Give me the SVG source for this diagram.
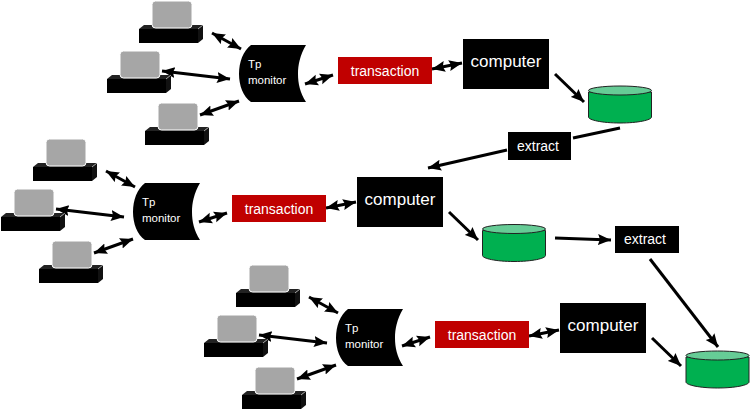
<svg xmlns="http://www.w3.org/2000/svg" xmlns:xlink="http://www.w3.org/1999/xlink" width="750" height="411" viewBox="0 0 750 411">
<style>
text{font-family:"Liberation Sans",Arial,sans-serif;fill:#fff}
.c{stroke:#000;stroke-width:3;fill:none;stroke-linecap:butt}
.a{marker-end:url(#h)}
.b{marker-start:url(#hs);marker-end:url(#h)}
.big{font-size:17px;text-anchor:middle}
.tx{font-size:14px;text-anchor:middle}
.mon{font-size:11.500px}
</style>
<defs>
<marker id="h" markerUnits="userSpaceOnUse" markerWidth="14" markerHeight="12" refX="13" refY="6" orient="auto"><path d="M0 .5L13 6L0 11.500L2 6Z" fill="#000"/></marker>
<marker id="hs" markerUnits="userSpaceOnUse" markerWidth="14" markerHeight="12" refX="1" refY="6" orient="auto"><path d="M14 .5L1 6L14 11.500L12 6Z" fill="#000"/></marker>
<g id="term">
<path d="M0 4L5 0H64L59 4Z" fill="#222"/><path d="M59 4L64 0V14L59 18Z" fill="#111"/>
<rect x="0" y="4" width="59" height="14" fill="#000"/><path d="M59 4L64 0" stroke="#ddd" stroke-width=".6" fill="none"/>
<rect x="13" y="-24" width="40" height="27" rx="3.500" fill="#a6a6a6" stroke="#fff" stroke-width="1"/>
</g>
<path id="mon" d="M12 0H67C61 10 59 20 59 29C59 38 61 48 67 57H12C4 52 0 40 0 29C0 17 4 6 12 0Z" fill="#000"/>
<g id="disk">
<path d="M.5 7V32C.5 35 14 38 32 38S63.500 35 63.500 32V7Z" fill="#00b050" stroke="#222" stroke-width="1"/>
<ellipse cx="32" cy="5.500" rx="31.500" ry="4.500" fill="#66cc96" stroke="#222" stroke-width="1"/>
</g>
</defs>
<g id="connectors">
<path class="c b" d="M212 33L241 49"/><path class="c b" d="M162 71L230 79"/><path class="c b" d="M200 115L239 101"/><path class="c b" d="M305 84L333 75"/><path class="c b" d="M432 69L462 63"/>
<path class="c a" d="M555 74L584 102"/><path class="c" d="M620 128L573 138"/><path class="c a" d="M507 150L428 168"/>
<path class="c b" d="M106 171L135 187"/><path class="c b" d="M56 209L124 217"/><path class="c b" d="M94 253L133 239"/><path class="c b" d="M199 222L227 213"/><path class="c b" d="M326 208L356 202"/>
<path class="c a" d="M449 212L478 240"/><path class="c a" d="M555 238L611 240"/><path class="c a" d="M650 259L718 347"/>
<path class="c b" d="M309 297L338 313"/><path class="c b" d="M259 335L327 343"/><path class="c b" d="M297 379L336 365"/><path class="c b" d="M402 346L430 337"/><path class="c b" d="M529 336L559 330"/>
<path class="c a" d="M652 338L681 366"/>
</g>
<g id="term1"><use xlink:href="#term" href="#term" x="139" y="25"/></g>
<g id="term2"><use xlink:href="#term" href="#term" x="107" y="75"/></g>
<g id="term3"><use xlink:href="#term" href="#term" x="145" y="127"/></g>
<g id="term4"><use xlink:href="#term" href="#term" x="33" y="163"/></g>
<g id="term5"><use xlink:href="#term" href="#term" x="1" y="213"/></g>
<g id="term6"><use xlink:href="#term" href="#term" x="39" y="265"/></g>
<g id="term7"><use xlink:href="#term" href="#term" x="236" y="289"/></g>
<g id="term8"><use xlink:href="#term" href="#term" x="204" y="339"/></g>
<g id="term9"><use xlink:href="#term" href="#term" x="242" y="391"/></g>
<g id="monitor1"><use xlink:href="#mon" href="#mon" x="239" y="45"/><text class="mon" x="248" y="68">Tp</text><text class="mon" x="248" y="84">monitor</text></g>
<g id="monitor2"><use xlink:href="#mon" href="#mon" x="133" y="183"/><text class="mon" x="142" y="206">Tp</text><text class="mon" x="142" y="222">monitor</text></g>
<g id="monitor3"><use xlink:href="#mon" href="#mon" x="336" y="309"/><text class="mon" x="345" y="332">Tp</text><text class="mon" x="345" y="348">monitor</text></g>
<g id="transaction1"><rect x="338" y="57" width="94" height="27" fill="#c00000"/><text class="tx" x="385" y="75.500">transaction</text></g>
<g id="transaction2"><rect x="232" y="195" width="94" height="27" fill="#c00000"/><text class="tx" x="279" y="213.500">transaction</text></g>
<g id="transaction3"><rect x="435" y="321" width="94" height="27" fill="#c00000"/><text class="tx" x="482" y="339.500">transaction</text></g>
<g id="computer1"><rect x="463" y="39" width="86" height="50" fill="#000"/><text class="big" x="506" y="67">computer</text></g>
<g id="computer2"><rect x="357" y="177" width="86" height="50" fill="#000"/><text class="big" x="400" y="205">computer</text></g>
<g id="computer3"><rect x="560" y="303" width="86" height="50" fill="#000"/><text class="big" x="603" y="331">computer</text></g>
<g id="disk1"><use xlink:href="#disk" href="#disk" x="588" y="85"/></g>
<g id="disk2"><use xlink:href="#disk" href="#disk" x="482" y="223.500"/></g>
<g id="disk3"><use xlink:href="#disk" href="#disk" x="685.500" y="350"/></g>
<g id="extract1"><rect x="508" y="132" width="63" height="28" fill="#000"/><text class="tx" x="538" y="151">extract</text></g>
<g id="extract2"><rect x="615" y="226" width="64" height="27" fill="#000"/><text class="tx" x="645" y="244">extract</text></g>
</svg>
